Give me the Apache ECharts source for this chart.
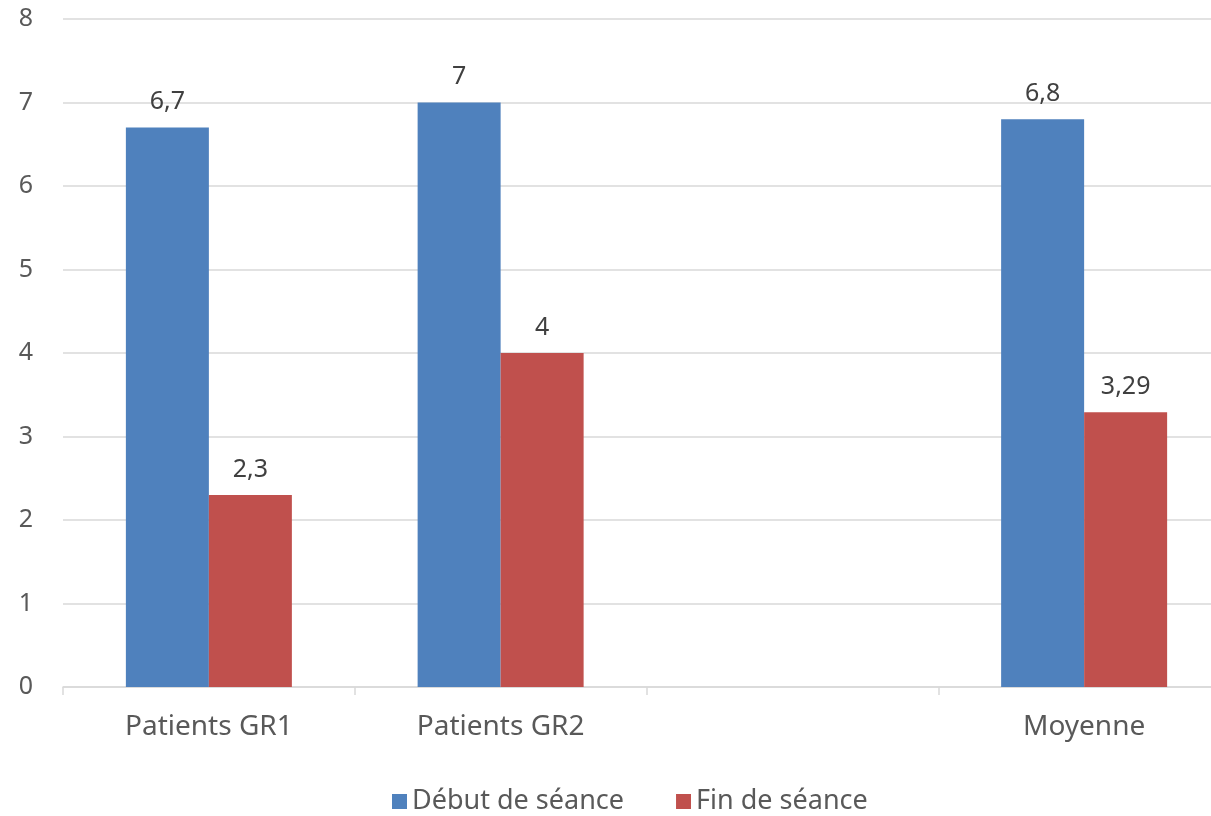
<!DOCTYPE html>
<html><head><meta charset="utf-8">
<script src="https://cdn.jsdelivr.net/npm/echarts@6/dist/echarts.min.js"></script>
<style>html,body{margin:0;padding:0;background:#fff;overflow:hidden}#c{width:1240px;height:816px}</style>
</head><body><div id="c"></div>
<script>
const categories = ['Patients GR1', 'Patients GR2', '', 'Moyenne'];
const debutValues = [6.7, 7, null, 6.8];
const finValues = [2.3, 4, null, 3.29];
const yTicks = [0, 1, 2, 3, 4, 5, 6, 7, 8];
const seriesNames = ['Début de séance', 'Fin de séance'];

const fontFam = '"Noto Sans", "Open Sans", sans-serif';
const fmt = p => String(p.value).replace('.', ',');
const chart = echarts.init(document.getElementById('c'));
chart.setOption({
  animation: false,
  textStyle: { fontFamily: fontFam },
  grid: { left: 63, right: 10, top: 19, bottom: 129, containLabel: false },
  legend: {
    data: seriesNames, top: 783, left: 387,
    itemWidth: 15, itemHeight: 15, itemGap: 52,
    icon: 'rect',
    textStyle: { fontSize: 27, color: '#595959', fontFamily: fontFam }
  },
  xAxis: {
    type: 'category', data: categories,
    axisLine: { lineStyle: { color: '#d9d9d9', width: 1.5 } },
    axisTick: { show: true, length: 8, lineStyle: { color: '#d9d9d9', width: 1.5 } },
    axisLabel: { fontSize: 28, color: '#595959', margin: 26, fontFamily: fontFam }
  },
  yAxis: {
    type: 'value', min: yTicks[0], max: yTicks[yTicks.length - 1], interval: 1,
    axisLine: { show: false }, axisTick: { show: false },
    splitLine: { lineStyle: { color: '#d9d9d9', width: 1.5 } },
    axisLabel: { fontSize: 25, color: '#595959', margin: 30, fontFamily: fontFam }
  },
  series: [
    { name: seriesNames[0], type: 'bar', data: debutValues, barWidth: 83, barGap: '0%',
      itemStyle: { color: '#4F81BD' },
      label: { show: true, position: 'top', fontSize: 25, color: '#404040', distance: 13, formatter: fmt } },
    { name: seriesNames[1], type: 'bar', data: finValues, barWidth: 83, barGap: '0%',
      itemStyle: { color: '#C0504D' },
      label: { show: true, position: 'top', fontSize: 25, color: '#404040', distance: 13, formatter: fmt } }
  ]
});
</script></body></html>
